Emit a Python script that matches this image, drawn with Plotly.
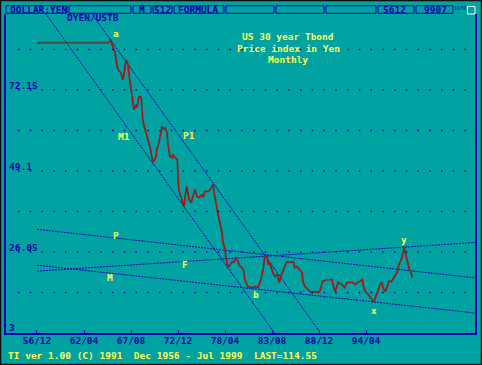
import plotly.graph_objects as go

# ---------------- data ----------------
month_idx = [0, 97, 101, 103, 106, 108, 109, 110, 114, 117,
             118, 120, 121, 123, 124, 125, 128, 129, 131, 132,
             135, 136, 139, 142, 143, 144, 146, 147, 150, 151,
             154, 157, 159, 162, 163, 166, 169, 170, 172, 174,
             177, 178, 181, 184, 185, 188, 191, 192, 193, 196,
             199, 200, 203, 204, 207, 210, 212, 215, 218, 221,
             225, 226, 229, 233, 236, 240, 241, 244, 246, 249,
             252, 253, 256, 257, 259, 261, 266, 268, 271, 274,
             276, 281, 283, 287, 293, 297, 301, 305, 308, 310,
             313, 315, 317, 321, 324, 327, 330, 332, 335, 340,
             345, 349, 351, 354, 357, 361, 362, 365, 369, 374,
             379, 383, 385, 389, 395, 402, 403, 406, 410, 415,
             419, 422, 429, 433, 437, 443, 444, 447, 451, 456,
             459, 462, 464, 467, 470, 471, 474, 477, 479, 483,
             486, 490, 493, 497, 500, 502, 504, 507, 509, 511]
index_values = [85.6, 85.6, 86.3, 84.5, 83.1, 80.0, 78.6, 78.0, 77.1, 75.1,
                76.0, 78.8, 80.8, 80.0, 79.4, 77.1, 73.1, 71.4, 68.9, 66.6,
                68.0, 67.2, 70.3, 70.0, 66.6, 63.8, 61.8, 60.9, 58.9, 58.1,
                55.8, 52.4, 51.8, 53.2, 55.2, 57.2, 60.3, 61.8, 60.9, 61.5,
                60.1, 57.2, 53.2, 52.9, 53.8, 52.9, 52.4, 47.5, 43.8, 41.8,
                39.6, 39.0, 43.8, 44.7, 41.0, 40.1, 41.6, 43.8, 41.8, 41.6,
                42.4, 41.6, 43.3, 43.3, 43.8, 45.3, 43.3, 39.0, 37.3, 34.4,
                31.6, 29.0, 26.8, 24.8, 22.5, 21.9, 23.3, 23.1, 24.5, 23.1,
                22.2, 21.1, 18.2, 16.2, 15.9, 16.2, 15.9, 18.2, 21.1, 24.5,
                24.8, 22.5, 23.1, 20.2, 19.1, 19.6, 17.4, 19.1, 20.5, 23.3,
                23.1, 23.3, 21.6, 21.9, 21.1, 20.2, 17.7, 16.2, 15.4, 14.5,
                14.8, 14.5, 14.8, 17.7, 18.2, 18.2, 16.8, 14.8, 17.4, 16.8,
                15.9, 17.4, 17.4, 16.8, 17.4, 18.2, 16.8, 14.8, 14.0, 12.5,
                12.0, 13.4, 14.8, 16.8, 17.4, 15.9, 14.8, 16.2, 17.7, 17.7,
                18.8, 20.2, 22.5, 24.5, 27.3, 25.3, 23.1, 21.1, 20.5, 18.8]
fixed_end = 1  # last point of the flat (pre-float) stretch

x_tick_months = [0, 64, 128, 192, 256, 320, 384, 448]
x_tick_labels = ["56/12", "62/04", "67/08", "72/12", "78/04", "83/08", "88/12", "94/04"]
y_tick_values = [95.2, 72.15, 49.1, 26.05, 3]
y_tick_labels = ["95.2", "72.15", "49.1", "26.05", "3"]
grid_values = [14.525, 26.05, 37.575, 49.1, 60.625, 72.15, 83.675]

# trend lines (month index, value) end points
trend_names = ["M1", "P1", "P", "F", "M"]
trend_x = [[-10, 340], [60, 400], [0, 600], [0, 600], [0, 600]]
trend_y = [[100.25, -1.83], [98.1, -1.04], [32.5, 18.6], [20.6, 28.8], [22.3, 8.6]]

# wave labels
label_text = ["a", "M1", "P1", "P", "M", "F", "b", "x", "y"]
label_x = [106.9, 118.5, 206.6, 106.9, 99.4, 202.2, 298.2, 458.9, 499.1]
label_y = [88.2, 59.0, 59.1, 30.7, 18.9, 22.4, 14.0, 9.5, 29.5]

title_lines = ["US 30 year Tbond", "Price index in Yen", "Monthly"]
header_texts = ["DOLLAR:YEN", "M", "512", "FORMULA", "5612", "9907"]
footer_text = "TI ver 1.00 (C) 1991  Dec 1956 - Jul 1999  LAST=114.55"

# ---------------- styling ----------------
TEAL = "#00A2A2"
BLUE = "#0000AA"
YEL = "#FFFF55"
FONT = "DejaVu Sans Mono"
W, H = 482, 365
L, R, T, B = 6, 7, 14, 32


def px(xp):
    return (xp - L) / (W - L - R)


def py(yp):
    return (H - B - yp) / (H - T - B)


fig = go.Figure()

for nm, tx, ty in zip(trend_names, trend_x, trend_y):
    fig.add_trace(go.Scatter(x=tx, y=ty, mode="lines", name=nm,
                             line=dict(color=BLUE, width=1, dash="2px,1px"),
                             hoverinfo="skip"))

fig.add_trace(go.Scatter(x=month_idx, y=index_values, mode="lines",
                         line=dict(color="#4A4A4A", width=1.8), hoverinfo="skip"))
fig.add_trace(go.Scatter(x=month_idx[fixed_end:], y=index_values[fixed_end:], mode="lines",
                         line=dict(color="#D40000", width=1)))

shapes = []
for gv in grid_values:
    shapes.append(dict(type="line", xref="paper", yref="y", x0=px(18), x1=px(467),
                       y0=gv, y1=gv, line=dict(color=BLUE, width=1.5, dash="1.5px,10.25px")))

# header boxes
boxes = [(6, 67), (69, 131), (133, 151), (153, 172), (174, 224), (226, 274),
         (276, 324), (326, 376), (378, 414), (416, 453)]
for x0, x1 in boxes:
    shapes.append(dict(type="rect", xref="paper", yref="paper", x0=px(x0), x1=px(x1),
                       y0=py(13.3), y1=py(5.7), line=dict(color=BLUE, width=1)))
shapes.append(dict(type="rect", xref="paper", yref="paper", x0=px(467.5), x1=px(475),
                   y0=py(14), y1=py(6.5), line=dict(color="white", width=1)))
# outer frame
shapes.append(dict(type="rect", xref="paper", yref="paper", x0=px(0.5), x1=px(481.5),
                   y0=py(364.5), y1=py(0.5), line=dict(color="#101010", width=1.5)))

annotations = []
tf = dict(family=FONT, size=9.5, color=YEL, weight="bold")
bf = dict(family=FONT, size=9.5, color=BLUE, weight="bold")

for t, x, y in zip(label_text, label_x, label_y):
    annotations.append(dict(x=x, y=y, xref="x", yref="y", text=t, showarrow=False,
                            font=tf, xanchor="center", yanchor="middle"))

for t, yc in zip(title_lines, [36, 48, 60]):
    annotations.append(dict(x=px(288), y=py(yc), xref="paper", yref="paper", text=t,
                            showarrow=False, font=tf, xanchor="center", yanchor="middle"))

ylab_shift = [-7.5, 4.5, 4.5, 4.5, 5.5]
for v, t, s in zip(y_tick_values, y_tick_labels, ylab_shift):
    annotations.append(dict(x=px(7), y=v, xref="paper", yref="y", text=t, showarrow=False,
                            font=bf, xanchor="left", yanchor="middle", yshift=s))

annotations.append(dict(x=px(65), y=py(17), xref="paper", yref="paper", text="DYEN/USTB",
                        showarrow=False, font=bf, xanchor="left", yanchor="middle"))

hdr_pos = [(8, "left"), (142, "center"), (162.5, "center"), (176, "left"), (394, "center"), (435, "center")]
for t, (hx, anc) in zip(header_texts, hdr_pos):
    annotations.append(dict(x=px(hx), y=py(9.6), xref="paper", yref="paper", text=t,
                            showarrow=False, font=bf, xanchor=anc, yanchor="middle"))
annotations.append(dict(x=px(460), y=py(8), xref="paper", yref="paper", text="1078",
                        showarrow=False, font=dict(family=FONT, size=5, color=BLUE),
                        xanchor="center", yanchor="middle"))

annotations.append(dict(x=px(6), y=py(355), xref="paper", yref="paper", text=footer_text,
                        showarrow=False, font=tf, xanchor="left", yanchor="middle"))

fig.update_layout(
    width=W, height=H,
    margin=dict(l=L, r=R, t=T, b=B, pad=0),
    paper_bgcolor=TEAL, plot_bgcolor=TEAL,
    showlegend=False,
    shapes=shapes, annotations=annotations,
    xaxis=dict(range=[-42.2, 596.4], tickvals=x_tick_months, ticktext=x_tick_labels,
               showgrid=False, zeroline=False, showline=True, linecolor=BLUE, linewidth=1.5,
               ticks="inside", ticklen=3, tickcolor=BLUE, tickfont=bf, fixedrange=True,
               ticklabelstandoff=-2),
    yaxis=dict(range=[3, 93.78], showgrid=False, zeroline=False, showticklabels=False,
               showline=True, linecolor=BLUE, linewidth=2, mirror=True, ticks="",
               fixedrange=True),
)

fig.write_html("out.html", config={"displayModeBar": False},
               post_script="document.body.style.margin='0';document.body.style.overflow='hidden';")
